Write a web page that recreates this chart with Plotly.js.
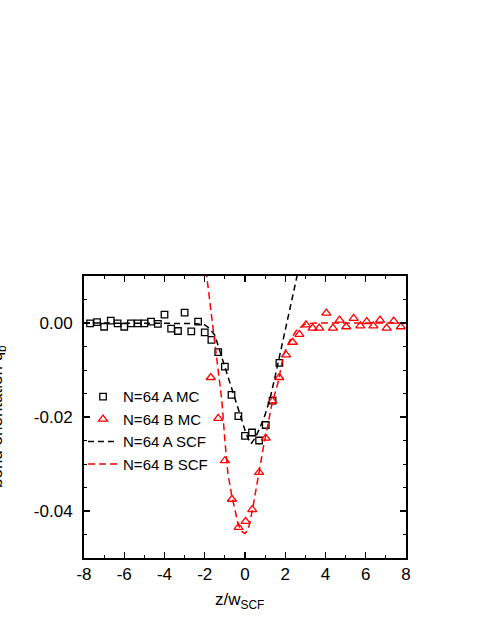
<!DOCTYPE html>
<html>
<head>
<meta charset="utf-8">
<script src="https://cdn.plot.ly/plotly-3.0.1.min.js"></script>
<style>html,body{margin:0;padding:0;background:#fff;}#chart{width:491px;height:635px;}</style>
</head>
<body>
<div id="chart"></div>
<script>
// ---- data ----
const zA_MC = [-7.7,-7.35,-7.0,-6.67,-6.33,-6.0,-5.67,-5.33,-5.0,-4.67,-4.33,-4.0,-3.67,-3.33,-3.0,-2.67,-2.33,-2.0,-1.67,-1.33,-1.0,-0.67,-0.33,0.0,0.35,0.7,1.03,1.37,1.71];
const qA_MC = [-0.0001,0.0002,-0.0008,0.0005,-0.0001,-0.0008,-0.0001,-0.0001,-0.0001,0.0003,-0.0002,0.0018,-0.0012,-0.0017,0.0022,-0.0018,0.0003,-0.002,-0.0036,-0.0062,-0.0093,-0.0153,-0.0198,-0.024,-0.0233,-0.025,-0.0217,-0.0165,-0.0085];

const zB_MC = [-1.7,-1.33,-1.0,-0.65,-0.32,0.03,0.36,0.7,1.03,1.36,1.7,2.04,2.37,2.7,3.03,3.36,3.69,4.04,4.37,4.7,5.03,5.4,5.73,6.05,6.38,6.71,7.04,7.39,7.74];
const qB_MC = [-0.0116,-0.0203,-0.0293,-0.0375,-0.0435,-0.0422,-0.0397,-0.0318,-0.0245,-0.0166,-0.0116,-0.0068,-0.0041,-0.0024,-0.0004,-0.0011,-0.0011,0.0021,-0.0011,0.0006,-0.0008,0.001,-0.0006,0.0003,-0.0006,0.0006,-0.0011,0.0004,-0.0008];

const zA_SCF = [-8,-3,-2.5,-2.0,-1.75,-1.5,-1.25,-1.0,-0.75,-0.5,-0.25,0.0,0.15,0.3,0.5,0.75,1.0,1.25,1.5,1.75,2.0,2.25,2.5,2.75];
const qA_SCF = [0,0,-0.0001,-0.0004,-0.0012,-0.0026,-0.006,-0.0091,-0.0126,-0.0163,-0.0195,-0.0228,-0.0245,-0.0257,-0.0245,-0.0222,-0.0195,-0.016,-0.0113,-0.0065,-0.0018,0.0032,0.0082,0.0132];

const zB_SCF = [-2.2,-1.9,-1.6,-1.3,-1.15,-1.0,-0.85,-0.66,-0.5,-0.33,-0.15,0.0,0.15,0.25,0.41,0.66,0.91,1.1,1.32,1.5,1.66,1.91,2.24,2.57,3.0,3.5,8];
const qB_SCF = [0.0205,0.01,-0.0005,-0.0108,-0.0165,-0.025,-0.032,-0.0367,-0.04,-0.043,-0.0444,-0.0448,-0.044,-0.0423,-0.0388,-0.0325,-0.0265,-0.0225,-0.0176,-0.0148,-0.0124,-0.0068,-0.0036,-0.0015,-0.0002,0,0];

const seriesNames = ['N=64 A MC','N=64 B MC','N=64 A SCF','N=64 B SCF'];
const xTickVals = [-8,-6,-4,-2,0,2,4,6,8];
const xTickText = ['-8','-6','-4','-2','0','2','4','6','8'];
const yTickVals = [0,-0.02,-0.04];
const yTickText = ['0.00','-0.02','-0.04'];
const xTitle = 'z/w<sub>SCF</sub>';
const yTitle = 'bond orientation q<sub>b</sub>';

const FONT = 'Liberation Sans, Arial, Helvetica, sans-serif';

const traces = [
  {x: zA_MC, y: qA_MC, name: seriesNames[0], type: 'scatter', mode: 'markers',
   marker: {symbol: 'square-open', size: 6.5, color: '#000', line: {width: 1.3, color: '#000'}}},
  {x: zB_MC, y: qB_MC, name: seriesNames[1], type: 'scatter', mode: 'markers',
   marker: {symbol: 'triangle-up-open', size: 8, color: '#ff0000', line: {width: 1.3, color: '#ff0000'}}},
  {x: zA_SCF, y: qA_SCF, name: seriesNames[2], type: 'scatter', mode: 'lines',
   line: {color: '#000', width: 1.5, dash: '6px,4px'}},
  {x: zB_SCF, y: qB_SCF, name: seriesNames[3], type: 'scatter', mode: 'lines',
   line: {color: '#ff0000', width: 1.5, dash: '7px,4px'}}
];

const axisCommon = {
  showline: true, linecolor: '#000', linewidth: 2, mirror: 'allticks',
  ticks: 'inside', ticklen: 6, tickwidth: 1.3, tickcolor: '#000',
  showgrid: false, zeroline: false,
  tickfont: {family: FONT, size: 17, color: '#000'}
};

const layout = {
  width: 491, height: 635,
  margin: {l: 84, r: 85, t: 276, b: 77, pad: 0},
  paper_bgcolor: '#fff', plot_bgcolor: '#fff',
  font: {family: FONT, color: '#000'},
  showlegend: true,
  legend: {x: -0.003, y: 0.63, xanchor: 'left', yanchor: 'top', bgcolor: 'rgba(0,0,0,0)',
           font: {family: FONT, size: 15, color: '#000'}, itemwidth: 30},
  xaxis: Object.assign({}, axisCommon, {
    range: [-8, 8], tickmode: 'array', tickvals: xTickVals, ticktext: xTickText,
    minor: {tickmode: 'linear', tick0: -8, dtick: 1, ticks: 'inside', ticklen: 3, tickwidth: 1, tickcolor: '#000', showgrid: false}
  }),
  yaxis: Object.assign({}, axisCommon, {
    range: [-0.05, 0.01], tickmode: 'array', tickvals: yTickVals, ticktext: yTickText,
    ticklabelstandoff: 6,
    minor: {tickmode: 'linear', tick0: 0, dtick: 0.005, ticks: 'inside', ticklen: 3, tickwidth: 1, tickcolor: '#000', showgrid: false}
  }),
  annotations: [
    {text: xTitle, xref: 'paper', yref: 'paper', x: 0.4006, y: -0.1525, xanchor: 'left', yanchor: 'middle',
     showarrow: false, font: {family: FONT, size: 17, color: '#000'}},
    {text: yTitle, xref: 'paper', yref: 'paper', x: -0.2267, y: 0.5, xanchor: 'right', yanchor: 'middle',
     textangle: -90, showarrow: false, font: {family: FONT, size: 17, color: '#000'}}
  ]
};

Plotly.newPlot('chart', traces, layout, {displayModeBar: false, staticPlot: true});
</script>
</body>
</html>
